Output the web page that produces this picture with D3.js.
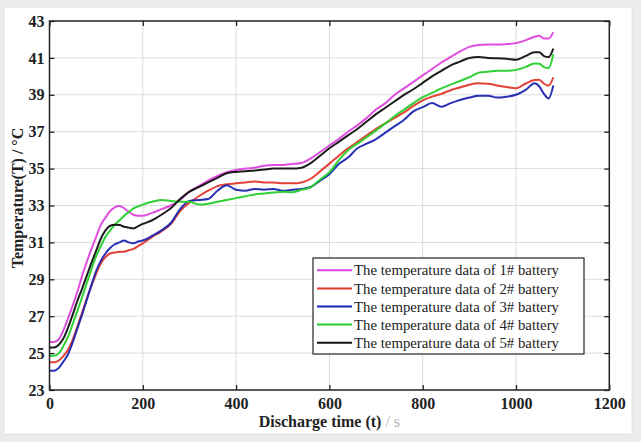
<!DOCTYPE html>
<html><head><meta charset="utf-8">
<script src="https://cdn.jsdelivr.net/npm/d3@7"></script>
<style>
html,body{margin:0;padding:0;background:#ececec;}
svg{display:block;}
</style></head><body>
<svg id="chart" width="641" height="442"></svg>
<script>
// ---- data ----
const timeS = [0,10,20,30,40,50,60,70,80,90,100,110,120,130,140,150,160,170,180,190,200,
  220,240,260,280,300,320,340,360,380,400,420,440,460,480,500,520,540,560,580,600,620,640,660,680,700,720,740,760,780,800,820,840,860,880,900,920,940,960,980,1000,1020,1040,
  1050,1060,1070,1080];

const battery1 = [25.6,25.6,25.75,26.25,26.9,27.6,28.35,29.2,29.95,30.65,31.3,31.95,32.35,32.7,32.9,32.97,32.85,32.65,32.5,32.45,32.45,
  32.6,32.8,33.0,33.3,33.75,34.05,34.35,34.6,34.8,34.92,35.0,35.05,35.15,35.2,35.2,35.25,35.3,35.55,35.9,36.25,36.6,37.0,37.35,37.75,38.2,38.55,39.0,39.35,39.7,40.05,40.4,40.75,41.05,41.35,41.6,41.7,41.72,41.72,41.75,41.8,41.95,42.15,
  42.2,42.05,42.05,42.4];

const battery2 = [24.5,24.5,24.6,24.85,25.2,25.75,26.45,27.2,27.95,28.65,29.3,29.85,30.2,30.4,30.45,30.5,30.5,30.58,30.65,30.8,30.95,
  31.3,31.6,32.0,32.7,33.15,33.5,33.8,34.05,34.15,34.2,34.25,34.3,34.25,34.25,34.2,34.2,34.25,34.45,34.85,35.27,35.7,36.1,36.45,36.8,37.16,37.45,37.75,38.05,38.4,38.7,38.9,39.05,39.25,39.4,39.55,39.62,39.6,39.5,39.42,39.35,39.6,39.8,
  39.82,39.6,39.5,39.95];

const battery3 = [24.05,24.05,24.2,24.55,24.95,25.6,26.35,27.1,27.9,28.7,29.45,30.0,30.4,30.7,30.9,31.0,31.1,31.0,30.95,31.05,31.1,
  31.35,31.65,32.05,32.8,33.25,33.3,33.35,33.8,34.1,33.85,33.8,33.9,33.85,33.9,33.8,33.85,33.9,34.0,34.35,34.7,35.25,35.6,36.1,36.35,36.6,36.95,37.3,37.65,38.1,38.33,38.55,38.35,38.55,38.72,38.85,38.95,38.95,38.85,38.9,39.0,39.25,39.62,
  39.45,39.05,38.8,39.5];

const battery4 = [24.85,24.85,25.0,25.4,25.9,26.6,27.3,28.05,28.8,29.55,30.25,30.8,31.3,31.65,31.95,32.2,32.45,32.65,32.85,32.95,33.05,
  33.2,33.3,33.25,33.2,33.2,33.05,33.1,33.2,33.3,33.4,33.5,33.6,33.65,33.7,33.75,33.72,33.85,34.0,34.4,34.8,35.45,36.0,36.35,36.7,37.07,37.45,37.85,38.2,38.55,38.87,39.1,39.35,39.55,39.75,39.95,40.2,40.25,40.3,40.3,40.35,40.5,40.7,
  40.68,40.5,40.45,41.2];

const battery5 = [25.3,25.3,25.45,25.8,26.4,27.1,27.85,28.5,29.2,29.9,30.55,31.2,31.65,31.9,31.95,31.94,31.85,31.8,31.76,31.88,32.0,
  32.2,32.5,32.85,33.35,33.75,34.0,34.25,34.5,34.75,34.82,34.85,34.9,34.95,35.0,35.0,35.0,35.05,35.3,35.7,36.1,36.45,36.8,37.15,37.55,37.95,38.3,38.65,39.0,39.3,39.65,40.0,40.3,40.6,40.8,41.0,41.05,41.0,40.98,40.95,40.9,41.1,41.3,
  41.3,41.1,41.05,41.5];

const seriesNames = [
  "The temperature data of 1# battery",
  "The temperature data of 2# battery",
  "The temperature data of 3# battery",
  "The temperature data of 4# battery",
  "The temperature data of 5# battery"
];
const xTicks = [0,200,400,600,800,1000,1200];
const yTicks = [23,25,27,29,31,33,35,37,39,41,43];

// ---- build ----
const seriesValues = [battery1, battery2, battery3, battery4, battery5];
const colors = ["#de45de", "#e0392b", "#1c25b0", "#25cf2b", "#111111"];

const svg = d3.select("#chart");
svg.append("rect").attr("x",4).attr("y",7).attr("width",628).attr("height",427)
  .attr("fill","#ffffff").attr("stroke","#e2e2e2");

const x = d3.scaleLinear().domain([0,1200]).range([49.5,609.3]);
const y = d3.scaleLinear().domain([23,43]).range([390,21]);

const font = "'Liberation Serif','Times New Roman',serif";
const fmt = d3.format("d");

// grid
const g = svg.append("g");
g.selectAll("line.gx").data(xTicks.slice(1,-1)).join("line")
  .attr("x1",d=>x(d)).attr("x2",d=>x(d)).attr("y1",y(23)).attr("y2",y(43))
  .attr("stroke","#dcdcdc").attr("stroke-width",1);
g.selectAll("line.gy").data(yTicks.slice(1,-1)).join("line")
  .attr("y1",d=>y(d)).attr("y2",d=>y(d)).attr("x1",x(0)).attr("x2",x(1200))
  .attr("stroke","#dcdcdc").attr("stroke-width",1);

// lines
const line = d3.line().x((d,i)=>x(timeS[i])).y(d=>y(d)).curve(d3.curveMonotoneX);
seriesValues.forEach((vals,k)=>{
  svg.append("path").datum(vals).attr("d",line)
    .attr("fill","none").attr("stroke",colors[k]).attr("stroke-width",2)
    .attr("stroke-linejoin","round").attr("opacity",0.95);
});

// axes
function styleAxis(sel){
  sel.select(".domain").remove();
  sel.selectAll(".tick line").attr("stroke","#222").attr("stroke-width",1.3);
  sel.selectAll(".tick text").attr("font-family",font).attr("font-weight","bold")
    .attr("font-size","16px").attr("fill","#222");
}
svg.append("g").attr("transform",`translate(0,${y(23)})`)
  .call(d3.axisBottom(x).tickValues(xTicks).tickFormat(fmt).tickSize(-5).tickPadding(8)).call(styleAxis);
svg.append("g").attr("transform",`translate(${x(0)},0)`)
  .call(d3.axisLeft(y).tickValues(yTicks).tickFormat(fmt).tickSize(-5).tickPadding(5)).call(styleAxis);
svg.append("g").attr("transform",`translate(0,${y(43)})`)
  .call(d3.axisTop(x).tickValues(xTicks).tickSize(-5).tickFormat("")).call(styleAxis);
svg.append("g").attr("transform",`translate(${x(1200)},0)`)
  .call(d3.axisRight(y).tickValues(yTicks).tickSize(-5).tickFormat("")).call(styleAxis);

// frame
svg.append("rect").attr("x",x(0)).attr("y",y(43)).attr("width",x(1200)-x(0)).attr("height",y(23)-y(43))
  .attr("fill","none").attr("stroke","#222").attr("stroke-width",1.5);

// axis titles
const xt = svg.append("text").attr("x",(x(0)+x(1200))/2).attr("y",427)
  .attr("text-anchor","middle").attr("font-family",font).attr("font-weight","bold")
  .attr("font-size","16px").attr("fill","#222");
xt.append("tspan").text("Discharge time (t)");
xt.append("tspan").attr("fill","#b5b5b5").attr("font-weight","normal").text(" / s");

svg.append("text").attr("transform",`translate(23,198) rotate(-90)`)
  .attr("text-anchor","middle").attr("font-family",font).attr("font-weight","bold")
  .attr("font-size","16px").attr("fill","#222").text("Temperature(T) / °C");

// legend
const lg = svg.append("g");
lg.append("rect").attr("x",313).attr("y",258).attr("width",271).attr("height",96)
  .attr("fill","#fff").attr("stroke","#222").attr("stroke-width",1.2);
seriesNames.forEach((name,k)=>{
  const yy = 270.3 + k*18.1;
  lg.append("line").attr("x1",317).attr("x2",352).attr("y1",yy).attr("y2",yy)
    .attr("stroke",colors[k]).attr("stroke-width",2);
  lg.append("text").attr("x",354).attr("y",yy).attr("dy","0.35em")
    .attr("font-family",font).attr("font-size","14.8px").attr("fill","#222").text(name);
});
</script>
</body></html>
